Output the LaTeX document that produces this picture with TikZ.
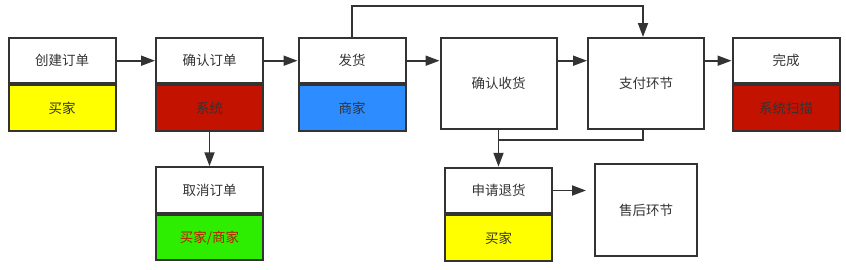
\documentclass[tikz,border=0pt]{standalone}
\usepackage{fontspec}
\setmainfont{Noto Sans CJK SC}
\usetikzlibrary{arrows.meta,calc}
\definecolor{ln}{HTML}{333333}
\definecolor{txt}{HTML}{333333}
\definecolor{fyellow}{HTML}{FFFF00}
\definecolor{fred}{HTML}{C31200}
\definecolor{fblue}{HTML}{2D8CFF}
\definecolor{fgreen}{HTML}{2EEE00}
\definecolor{tred}{HTML}{C01A00}
\tikzset{
  box/.style={draw=ln, line width=2pt, rectangle, inner sep=0pt, font=\fontsize{13.5pt}{15pt}\selectfont, text=txt},
  half/.style={box, minimum width=107pt, minimum height=45.5pt},
  full/.style={box, minimum width=116pt, minimum height=91pt},
  arr/.style={draw=ln, line width=1.8pt, -{Triangle[length=14pt,width=10pt]}},
  ln/.style={draw=ln, line width=1.8pt}
}
\begin{document}
\begin{tikzpicture}[x=1pt,y=-1pt]
\useasboundingbox (0,0) rectangle (846,269);
% row 1
\node[half] (c1t) at (62,60.7) {创建订单};
\node[half, fill=fyellow, anchor=north] (c1b) at (c1t.south) {买家};
\node[half] (c2t) at (209.5,60.7) {确认订单};
\node[half, fill=fred, anchor=north] (c2b) at (c2t.south) {系统};
\node[half] (c3t) at (352,60.7) {发货};
\node[half, fill=fblue, anchor=north] (c3b) at (c3t.south) {商家};
\node[full] (c4) at (498.5,83.5) {确认收货};
\node[full] (c5) at (646,83.5) {支付环节};
\node[half] (c6t) at (786,60.7) {完成};
\node[half, fill=fred, anchor=north] (c6b) at (c6t.south) {系统扫描};
% row 2
\node[half] (qt) at (209.5,190) {取消订单};
\node[half, fill=fgreen, anchor=north, text=tred] (qb) at (qt.south) {买家/商家};
\node[half] (rt) at (498.5,190.5) {申请退货};
\node[half, fill=fyellow, anchor=north] (rb) at (rt.south) {买家};
\node[box, minimum width=102pt, minimum height=92pt] (sh) at (646,210) {售后环节};
% connectors
\draw[arr] (c1t.east) -- (c2t.west);
\draw[arr] (c2t.east) -- (c3t.west);
\draw[arr] (c3t.east) -- (c3t.east -| c4.west);
\draw[arr] (c3t.east -| c4.east) -- (c3t.east -| c5.west);
\draw[arr] (c6t.west -| c5.east) -- (c6t.west);
\coordinate (topy) at (0,6);
\coordinate (c5in) at ($(c5.north)+(-3,0)$);
\draw[arr] (c3t.north) -- (c3t.north |- topy) -| (c5in);
\draw[arr] (c2b.south) -- (qt.north);
\draw[arr] (c4.south) -- (rt.north);
\coordinate (c5out) at ($(c5.south)+(-3,0)$);
\coordinate (mrg) at (498.5,140);
\draw[ln] (c5out) |- (mrg);
\draw[arr, shorten >=8pt] (rt.east) -- (rt.east -| sh.west);
\end{tikzpicture}
\end{document}
